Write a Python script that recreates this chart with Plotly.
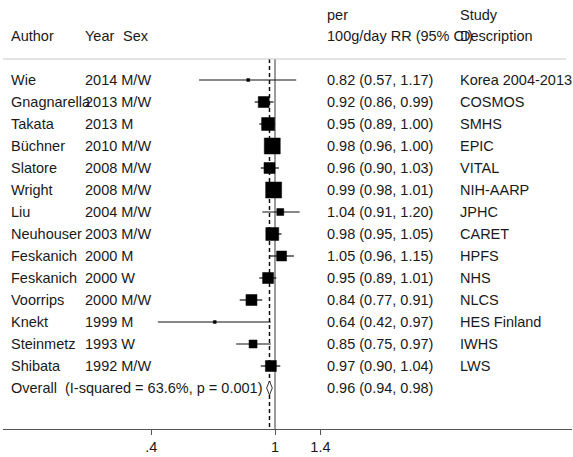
import math
import plotly.graph_objects as go

# Study-level estimates: relative risk per 100 g/day with 95% CI
authors = ["Wie", "Gnagnarella", "Takata", "Büchner", "Slatore", "Wright", "Liu",
           "Neuhouser", "Feskanich", "Feskanich", "Voorrips", "Knekt", "Steinmetz", "Shibata"]
years = ["2014", "2013", "2013", "2010", "2008", "2008", "2004",
         "2003", "2000", "2000", "2000", "1999", "1993", "1992"]
sexes = ["M/W", "M/W", "M", "M/W", "M/W", "M/W", "M/W",
         "M/W", "M", "W", "M/W", "M", "W", "M/W"]
rr = [0.82, 0.92, 0.95, 0.98, 0.96, 0.99, 1.04, 0.98, 1.05, 0.95, 0.84, 0.64, 0.85, 0.97]
lo = [0.57, 0.86, 0.89, 0.96, 0.90, 0.98, 0.91, 0.95, 0.96, 0.89, 0.77, 0.42, 0.75, 0.90]
hi = [1.17, 0.99, 1.00, 1.00, 1.03, 1.01, 1.20, 1.05, 1.15, 1.01, 0.91, 0.97, 0.97, 1.04]
studies = ["Korea 2004-2013", "COSMOS", "SMHS", "EPIC", "VITAL", "NIH-AARP", "JPHC",
           "CARET", "HPFS", "NHS", "NLCS", "HES Finland", "IWHS", "LWS"]
weights = [0.5, 7.2, 10.0, 15.2, 7.2, 15.2, 2.9, 10.0, 5.9, 7.2, 7.2, 0.5, 3.8, 7.2]

overall_rr, overall_lo, overall_hi = 0.96, 0.94, 0.98
overall_label = "Overall  (I-squared = 63.6%, p = 0.001)"

tick_vals = [0.4, 1, 1.4]
tick_text = [".4", "1", "1.4"]

W, H = 573, 457
ML, MR, MT, MB = 3, 1, 0, 28
FONT = "Liberation Sans, Arial, sans-serif"
FS = 14.5
TXT = "#1a1a1a"

# log x-axis: pixel x = 275 + 135*ln(v)
px_per_ln = 135.0
x_left = math.exp((ML - 275) / px_per_ln)
x_right = math.exp((W - MR - 275) / px_per_ln)
xrange = [math.log10(x_left), math.log10(x_right)]

# y in row units: row i at pixel 80 + 22*i
def row_of(py):
    return (py - 80) / 22.0

plot_h = H - MT - MB
yrange = [row_of(plot_h), row_of(0)]

n = len(rr)
rows = list(range(n))
overall_row = n

def xpaper(px):
    return (px - ML) / (W - ML - MR)

fig = go.Figure()

top_row = row_of(59)
bottom_row = row_of(plot_h)

# reference line at RR = 1
fig.add_trace(go.Scatter(x=[1, 1], y=[top_row, bottom_row], mode="lines",
                         line=dict(color="#7a7a7a", width=1.5), hoverinfo="skip"))
# dashed line at the pooled estimate
fig.add_trace(go.Scatter(x=[overall_rr, overall_rr], y=[top_row, bottom_row], mode="lines",
                         line=dict(color="#111111", width=1.5, dash="4px,3px"), hoverinfo="skip"))

# confidence interval lines
cx, cy = [], []
for i in rows:
    cx += [lo[i], hi[i], None]
    cy += [i, i, None]
fig.add_trace(go.Scatter(x=cx, y=cy, mode="lines", line=dict(color="#111111", width=1.2),
                         hoverinfo="skip"))

# weighted boxes
sizes = [4.1 * math.sqrt(w) for w in weights]
fig.add_trace(go.Scatter(x=rr, y=rows, mode="markers", opacity=1,
                         marker=dict(symbol="square", size=sizes, color="#000000",
                                     opacity=1, line=dict(width=0.5, color="#000000")),
                         hoverinfo="skip"))

# pooled diamond
dh = 0.32
fig.add_trace(go.Scatter(
    x=[overall_lo, overall_rr, overall_hi, overall_rr, overall_lo],
    y=[overall_row, overall_row - dh, overall_row, overall_row + dh, overall_row],
    mode="lines", fill="toself", fillcolor="white",
    line=dict(color="#333333", width=1), hoverinfo="skip"))

ann = []

def add_text(px, row, text):
    ann.append(dict(x=xpaper(px), xref="paper", y=row, yref="y", text=text,
                    showarrow=False, xanchor="left", yanchor="middle",
                    font=dict(family=FONT, size=FS, color=TXT), borderpad=0))

# headers
hdr1 = row_of(15)
hdr2 = row_of(36)
add_text(10, hdr2, "Author")
add_text(84, hdr2, "Year")
add_text(122, hdr2, "Sex")
add_text(326, hdr1, "per")
add_text(326, hdr2, "100g/day RR (95% CI)")
add_text(459, hdr1, "Study")
add_text(459, hdr2, "Description")

for i in rows:
    add_text(10, i, authors[i])
    add_text(84, i, f"{years[i]} {sexes[i]}")
    add_text(326, i, f"{rr[i]:.2f} ({lo[i]:.2f}, {hi[i]:.2f})")
    add_text(459, i, studies[i])

add_text(10, overall_row, overall_label)
add_text(326, overall_row, f"{overall_rr:.2f} ({overall_lo:.2f}, {overall_hi:.2f})")

# header rule
shapes = [dict(type="line", xref="paper", yref="y", x0=0, x1=xpaper(566),
               y0=top_row, y1=top_row, line=dict(color="#c8c8c8", width=1))]

fig.update_layout(
    width=W, height=H,
    margin=dict(l=ML, r=MR, t=MT, b=MB),
    paper_bgcolor="white", plot_bgcolor="white",
    showlegend=False,
    annotations=ann, shapes=shapes,
    xaxis=dict(type="log", range=xrange, tickvals=tick_vals, ticktext=tick_text,
               showgrid=False, zeroline=False, showline=True, linecolor="#555555",
               linewidth=1, ticks="outside", ticklen=5, tickcolor="#555555",
               tickfont=dict(family=FONT, size=FS, color=TXT), fixedrange=True),
    yaxis=dict(range=yrange, showgrid=False, zeroline=False, showticklabels=False,
               showline=False, fixedrange=True),
)

fig.write_html("out.html")
